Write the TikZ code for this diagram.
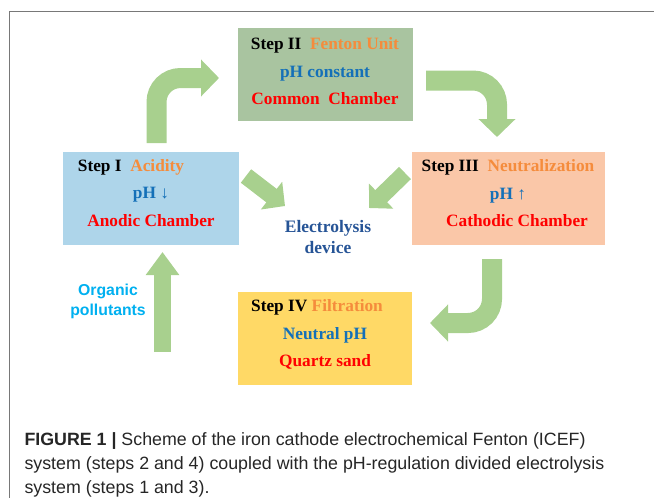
\documentclass[tikz,border=0pt]{standalone}
\usepackage{fontspec}
\setmainfont{Liberation Serif}
\setsansfont{Liberation Sans}
\usetikzlibrary{arrows.meta}

\definecolor{arrowgreen}{RGB}{168,208,142}
\definecolor{boxgreen}{RGB}{169,196,160}
\definecolor{boxblue}{RGB}{174,213,234}
\definecolor{boxsalmon}{RGB}{250,199,168}
\definecolor{boxyellow}{RGB}{255,217,102}
\definecolor{titleorange}{RGB}{245,140,60}
\definecolor{phblue}{RGB}{20,112,184}
\definecolor{devblue}{RGB}{38,84,150}
\definecolor{polcyan}{RGB}{0,176,240}
\definecolor{framegray}{RGB}{120,120,120}

\begin{document}
\begin{tikzpicture}[x=1pt, y=-1pt,
    stepbox/.style={inner sep=0pt, minimum height=93pt},
    steptext/.style={align=center, font=\fontsize{17.3}{27.5}\selectfont\bfseries},
    flow/.style={draw=arrowgreen, line width=20pt, rounded corners=24pt,
      -{Triangle[width=36pt, length=18pt]}},
    thinflow/.style={draw=arrowgreen, line width=17pt,
      -{Triangle[width=34pt, length=17pt]}}]
    \useasboundingbox (0,0) rectangle (654,498);

    % frame
    \draw[framegray, line width=1.5pt] (654,11.5) -- (9.5,11.5) -- (9.5,498);

    % the four chambers
    \node[stepbox, fill=boxgreen, minimum width=175pt] (S2) at (325.5,74) {};
    \node[stepbox, fill=boxblue, minimum width=176pt] (S1) at (151,198.5) {};
    \node[stepbox, fill=boxsalmon, minimum width=193pt] (S3) at (508.5,198.5) {};
    \node[stepbox, fill=boxyellow, minimum width=174pt] (S4) at (325,338.5) {};

    \node[steptext] (S2txt) at (325,71.5) {Step II~~{\color{titleorange}Fenton Unit}\\
      {\color{phblue}pH constant}\\
      {\color{red}Common~~Chamber}};
    \node[steptext] (S1txt) at (151,193) {Step I~~{\color{titleorange}Acidity}\kern40pt\\
      {\color{phblue}pH \mdseries↓}\\
      {\color{red}Anodic Chamber}};
    \node[steptext] (S3txt) at (508,193.5) {Step III~~{\color{titleorange}Neutralization}\\
      {\color{phblue}pH \mdseries↑}\\
      \kern18pt{\color{red}Cathodic Chamber}};
    \node[steptext] (S4txt) at (325,334.5) {Step IV~{\color{titleorange}Filtration}\kern16pt\\
      {\color{phblue}Neutral pH}\\
      {\color{red}Quartz sand}};

    \node[align=center, text=devblue, font=\fontsize{17.5}{20.5}\selectfont\bfseries] (dev) at (328,237) {Electrolysis\\device};
    \node[align=center, text=polcyan, font=\sffamily\fontsize{15.8}{20}\selectfont\bfseries] (pol) at (108,301) {Organic\\pollutants};

    % arrow ends
    \coordinate (a1s) at (156.5,143);
    \coordinate (a1e) at (219,78);
    \coordinate (a2s) at (426,80.5);
    \coordinate (a2e) at (497,137);
    \coordinate (a3s) at (492,259);
    \coordinate (a3e) at (430,323);
    \coordinate (a4s) at (162.5,352);
    \coordinate (a4e) at (162.5,252);
    \coordinate (a5s) at (246,176);
    \coordinate (a5e) at (285,206);
    \coordinate (a6s) at (405,173);
    \coordinate (a6e) at (369,208);

    % arrows
    \draw[flow] (a1s) |- (a1e);
    \draw[flow] (a2s) -| (a2e);
    \draw[flow] (a3s) |- (a3e);
    \draw[flow, line width=17pt, -{Triangle[width=32pt, length=23pt]}] (a4s) -- (a4e);
    \draw[thinflow] (a5s) -- (a5e);
    \draw[thinflow] (a6s) -- (a6e);

    % caption
    \node[anchor=north west, align=left, text=black!85, font=\sffamily\fontsize{17.8}{24}\selectfont] (cap) at (21,429)
      {\textbf{FIGURE 1 |} Scheme of the iron cathode electrochemical Fenton (ICEF)\\
      system (steps 2 and 4) coupled with the pH-regulation divided electrolysis\\
      system (steps 1 and 3).};
\end{tikzpicture}
\end{document}
